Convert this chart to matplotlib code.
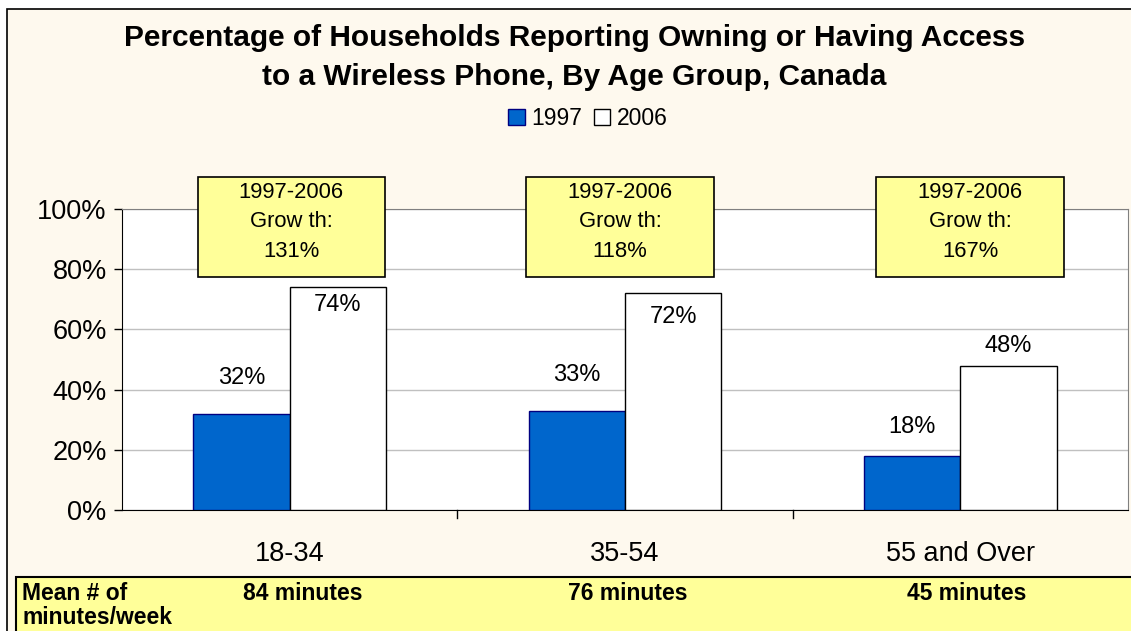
import matplotlib.pyplot as plt
from matplotlib.patches import Rectangle
import numpy as np

plt.rcParams['font.family'] = ['Liberation Sans', 'DejaVu Sans']

# data
groups = ['18-34', '35-54', '55 and Over']
years = ['1997', '2006']
pct_1997 = [32, 33, 18]
pct_2006 = [74, 72, 48]
growth = ['131%', '118%', '167%']
minutes = ['84 minutes', '76 minutes', '45 minutes']

# hand-placed label offsets (percentage points from bar top), as in the original
off_1997 = [12, 12, 9.5]
off_2006 = [-6, -8, 6.5]
# callout boxes were nudged by hand in the original too
box_dx = [0.005, -0.015, 0.029]

W, H = 1131, 631
fig = plt.figure(figsize=(W / 100, H / 100), dpi=100)
fig.patch.set_facecolor('white')

# chart area background with border (runs off the right / bottom edge)
fig.patches.append(Rectangle((7 / W, -0.1), 1.2, 1 - 9 / H + 0.1,
                             transform=fig.transFigure, facecolor='#FEF9EE',
                             edgecolor='black', linewidth=1.2, zorder=-2))

ax = fig.add_axes([122 / W, 1 - 510 / H, (1128 - 122) / W, (510 - 209) / H])
ax.set_zorder(5)
ax.set_facecolor('white')

x = np.arange(len(groups))
bw = 0.287
b1 = ax.bar(x - bw / 2, pct_1997, bw, color='#0066CC', edgecolor='#000080',
            linewidth=1.0, label=years[0], zorder=3)
b2 = ax.bar(x + bw / 2, pct_2006, bw, color='white', edgecolor='black',
            linewidth=1.0, label=years[1], zorder=3)

for i in range(len(groups)):
    ax.text(x[i] - bw / 2, pct_1997[i] + off_1997[i], f'{pct_1997[i]}%',
            ha='center', va='center', fontsize=17, zorder=5)
    ax.text(x[i] + bw / 2, pct_2006[i] + off_2006[i], f'{pct_2006[i]}%',
            ha='center', va='center', fontsize=17, zorder=5)
    # growth callouts
    cx = x[i] + box_dx[i]
    ax.add_patch(Rectangle((cx - 0.279, 77.4), 0.558, 33.2,
                           facecolor='#FFFF99', edgecolor='black',
                           linewidth=1.2, zorder=6, clip_on=False))
    for ty, line in zip([105.6, 95.7, 86.0],
                        ['1997-2006', 'Grow th:', growth[i]]):
        ax.text(cx, ty, line, ha='center', va='center', fontsize=15.8,
                zorder=7, clip_on=False)

ax.set_xlim(-0.5, len(groups) - 0.5)
ax.set_ylim(0, 100)
ax.set_yticks(range(0, 101, 20))
ax.set_yticklabels([f'{v}%' for v in range(0, 101, 20)], fontsize=19.5)
ax.set_xticks(x)
ax.set_xticklabels(groups, fontsize=19.5)
ax.tick_params(axis='x', length=0, pad=22)
ax.tick_params(axis='y', length=6, width=1, direction='out', pad=5)
for b in [0.5, 1.5]:
    ax.plot([b, b], [0, -2.5], color='black', lw=1, clip_on=False)
ax.grid(axis='y', color='#C0C0C0', linewidth=1, zorder=0)
ax.set_axisbelow(True)
ax.spines['top'].set_color('#808080')
ax.spines['right'].set_color('#808080')
ax.spines['left'].set_color('black')
ax.spines['bottom'].set_color('black')

fig.text(0.508, 1 - 38 / H,
         'Percentage of Households Reporting Owning or Having Access',
         ha='center', va='center', fontsize=21.5, fontweight='bold')
fig.text(0.508, 1 - 77 / H, 'to a Wireless Phone, By Age Group, Canada',
         ha='center', va='center', fontsize=21.5, fontweight='bold')

fig.legend(handles=[b1, b2], labels=years, loc='center',
           bbox_to_anchor=(588 / W, 1 - 119 / H), ncol=2, frameon=False,
           fontsize=16.5, handlelength=0.7, handleheight=0.7,
           handletextpad=0.3, columnspacing=0.5)

# bottom table strip
fig.patches.append(Rectangle((16 / W, -0.1), 1.2, 0.1 + 1 - 577 / H,
                             transform=fig.transFigure, facecolor='#FFFF99',
                             edgecolor='black', linewidth=1.5, zorder=-1))
fig.text(22 / W, 1 - 594 / H, 'Mean # of', ha='left', va='center',
         fontsize=16.5, fontweight='bold')
fig.text(22 / W, 1 - 618 / H, 'minutes/week', ha='left', va='center',
         fontsize=16.5, fontweight='bold')
for cx, m in zip([303, 628, 967], minutes):
    fig.text(cx / W, 1 - 594 / H, m, ha='center', va='center',
             fontsize=16.5, fontweight='bold')

fig.savefig('out.png', dpi=100, facecolor=fig.get_facecolor())
